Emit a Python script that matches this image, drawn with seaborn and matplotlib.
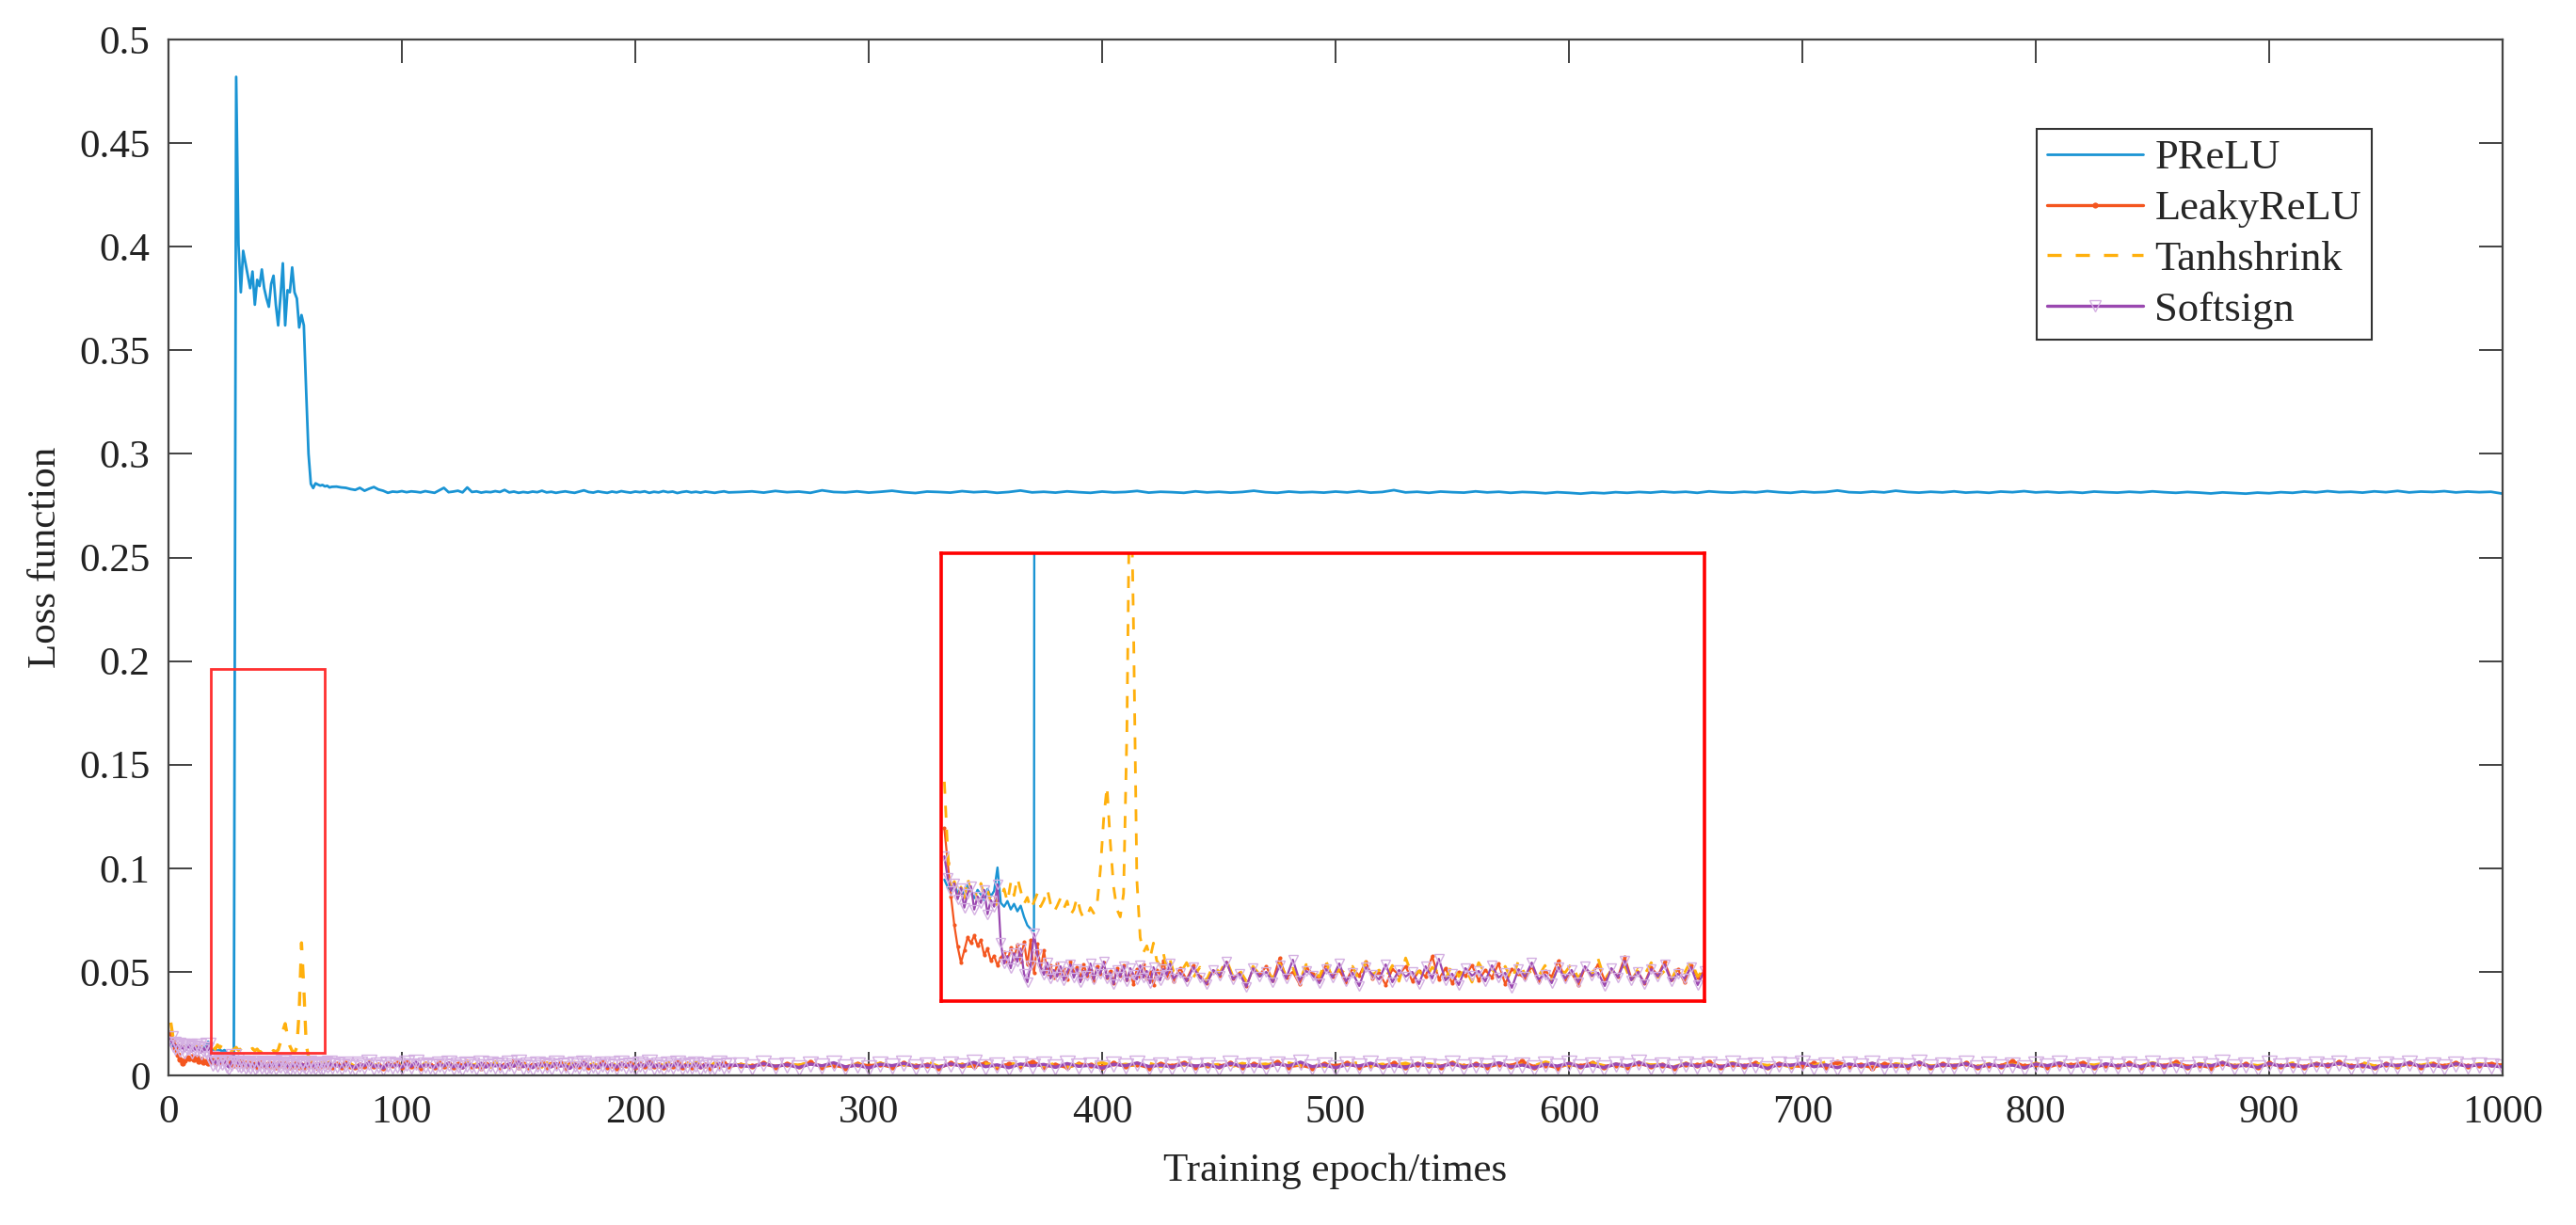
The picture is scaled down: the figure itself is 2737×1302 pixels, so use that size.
import numpy as np
import pandas as pd
import matplotlib
matplotlib.use("Agg")
import matplotlib.pyplot as plt
from matplotlib.patches import Rectangle
import seaborn as sns

# ---------------- data ----------------
series_names = ["PReLU", "LeakyReLU", "Tanhshrink", "Softsign"]
x_ticks = [0, 100, 200, 300, 400, 500, 600, 700, 800, 900, 1000]
y_ticks = [0, 0.05, 0.1, 0.15, 0.2, 0.25, 0.3, 0.35, 0.4, 0.45, 0.5]
x_label = "Training epoch/times"
y_label = "Loss function"

# epochs 1..70 (every epoch), 72..240 (every 2), 245..1000 (every 5)
prelu_seg1 = [0.0150, 0.0142, 0.0138, 0.0146, 0.0135, 0.0141, 0.0133, 0.0144, 0.0137, 0.0130,
              0.0139, 0.0134, 0.0128, 0.0140, 0.0132, 0.0138, 0.0163, 0.0125, 0.0121, 0.0127,
              0.0118, 0.0124, 0.0116, 0.0122, 0.0110, 0.0101, 0.0097, 0.0095, 0.482, 0.401,
              0.378, 0.398, 0.392, 0.386, 0.380, 0.388, 0.372, 0.384, 0.381, 0.389,
              0.380, 0.375, 0.371, 0.382, 0.386, 0.372, 0.362, 0.376, 0.392, 0.362,
              0.379, 0.378, 0.390, 0.378, 0.375, 0.361, 0.367, 0.362, 0.330, 0.300,
              0.2855, 0.2835, 0.2858, 0.2852, 0.2847, 0.2850, 0.2843, 0.2846, 0.2838, 0.2841]
prelu_seg2 = [0.2842, 0.2838, 0.2836, 0.2830, 0.2826, 0.2836, 0.2822, 0.2832, 0.2840, 0.2828,
              0.2822, 0.2812, 0.2818, 0.2816, 0.2820, 0.2815, 0.2819, 0.2817, 0.2814, 0.2820,
              0.2816, 0.2812, 0.2824, 0.2836, 0.2815, 0.2818, 0.2822, 0.2814, 0.2838, 0.2816,
              0.2819, 0.2813, 0.2817, 0.2815, 0.2820, 0.2816, 0.2826, 0.2814, 0.2818, 0.2812,
              0.2816, 0.2813, 0.2818, 0.2815, 0.2822, 0.2814, 0.2817, 0.2812, 0.2816, 0.2819,
              0.2815, 0.2812, 0.2818, 0.2824, 0.2816, 0.2813, 0.2819, 0.2815, 0.2812, 0.2818,
              0.2814, 0.2820, 0.2816, 0.2813, 0.2818, 0.2815, 0.2819, 0.2812, 0.2817, 0.2814,
              0.2820, 0.2815, 0.2818, 0.2811, 0.2816, 0.2819, 0.2814, 0.2817, 0.2813, 0.2818,
              0.2815, 0.2812, 0.2816, 0.2819, 0.2814]
prelu_seg3 = [0.2816, 0.2819, 0.2813, 0.2821, 0.2815, 0.2818, 0.2812, 0.2824, 0.2816, 0.2814,
              0.2819, 0.2813, 0.2817, 0.2822, 0.2815, 0.2811, 0.2818, 0.2816, 0.2813, 0.2820,
              0.2815, 0.2818, 0.2812, 0.2816, 0.2823, 0.2814, 0.2817, 0.2813, 0.2819, 0.2815,
              0.2812, 0.2818, 0.2814, 0.2816, 0.2821, 0.2813, 0.2817, 0.2815, 0.2812, 0.2819,
              0.2814, 0.2817, 0.2813, 0.2816, 0.2822, 0.2815, 0.2812, 0.2818, 0.2814, 0.2816,
              0.2813,
              0.2818, 0.2814, 0.2820, 0.2813, 0.2816, 0.2825, 0.2814, 0.2817, 0.2812, 0.2818,
              0.2815, 0.2813, 0.2819, 0.2814, 0.2817, 0.2812, 0.2816, 0.2814, 0.2810, 0.2815,
              0.2812, 0.2808, 0.2813, 0.2810, 0.2815, 0.2812, 0.2816, 0.2813, 0.2818, 0.2814,
              0.2817, 0.2812, 0.2819, 0.2815, 0.2813, 0.2817, 0.2814, 0.2820, 0.2815, 0.2812,
              0.2818, 0.2814, 0.2816, 0.2823, 0.2815, 0.2813, 0.2818, 0.2814, 0.2822, 0.2816,
              0.2813,
              0.2817, 0.2814, 0.2819, 0.2813, 0.2816, 0.2812, 0.2818, 0.2815, 0.2820, 0.2814,
              0.2817, 0.2813, 0.2816, 0.2812, 0.2818, 0.2815, 0.2813, 0.2817, 0.2814, 0.2819,
              0.2815, 0.2812, 0.2816, 0.2813, 0.2809, 0.2814, 0.2811, 0.2808, 0.2813, 0.2810,
              0.2815, 0.2812, 0.2818, 0.2814, 0.2820, 0.2815, 0.2817, 0.2813, 0.2819, 0.2815,
              0.2821, 0.2814, 0.2818, 0.2816, 0.2820, 0.2814, 0.2818, 0.2815, 0.2817, 0.2808]

leaky_seg1 = [0.0205, 0.0168, 0.0132, 0.0101, 0.0078, 0.0061, 0.0074, 0.0088, 0.0082, 0.0090,
              0.0079, 0.0085, 0.0069, 0.0076, 0.0063, 0.0068, 0.0058, 0.0066, 0.0072, 0.0061,
              0.0077, 0.0065, 0.0080, 0.0062, 0.0083, 0.0059, 0.0085, 0.0050, 0.0081, 0.0054,
              0.0074, 0.0049, 0.0058, 0.0045, 0.0060, 0.0048, 0.0055, 0.0043, 0.0062, 0.0050,
              0.0056, 0.0044, 0.0059, 0.0047, 0.0053, 0.0041, 0.0057, 0.0049, 0.0061, 0.0045,
              0.0052, 0.0039, 0.0055, 0.0047, 0.0058, 0.0043, 0.0050, 0.0038, 0.0054, 0.0046,
              0.0059, 0.0044, 0.0051, 0.0037, 0.0053, 0.0048, 0.0063, 0.0045, 0.0052, 0.0041]
leaky_seg2 = [0.0055, 0.0043, 0.0058, 0.0046, 0.0039, 0.0052, 0.0047, 0.0061, 0.0044, 0.0050,
              0.0036, 0.0054, 0.0048, 0.0057, 0.0042, 0.0066, 0.0045, 0.0051, 0.0038, 0.0056,
              0.0049, 0.0043, 0.0059, 0.0046, 0.0053, 0.0040, 0.0055, 0.0047, 0.0062, 0.0044,
              0.0050, 0.0037, 0.0054, 0.0048, 0.0057, 0.0041, 0.0052, 0.0046, 0.0068, 0.0043,
              0.0055, 0.0039, 0.0051, 0.0047, 0.0058, 0.0042, 0.0053, 0.0045, 0.0060, 0.0038,
              0.0054, 0.0049, 0.0044, 0.0057, 0.0041, 0.0052, 0.0046, 0.0063, 0.0043, 0.0050,
              0.0037, 0.0055, 0.0048, 0.0059, 0.0042, 0.0053, 0.0046, 0.0067, 0.0044, 0.0051,
              0.0039, 0.0056, 0.0047, 0.0062, 0.0043, 0.0054, 0.0040, 0.0058, 0.0045, 0.0052,
              0.0038, 0.0055, 0.0047, 0.0061, 0.0044]
leaky_seg3 = [0.0052, 0.0044, 0.0058, 0.0041, 0.0055, 0.0047, 0.0062, 0.0043, 0.0050, 0.0038,
              0.0056, 0.0046, 0.0053, 0.0040, 0.0059, 0.0045, 0.0051, 0.0037, 0.0057, 0.0048,
              0.0044, 0.0060, 0.0042, 0.0054, 0.0047, 0.0065, 0.0043, 0.0052, 0.0039, 0.0055,
              0.0048, 0.0041, 0.0058, 0.0045, 0.0053, 0.0038, 0.0056, 0.0046, 0.0061, 0.0042,
              0.0051, 0.0044, 0.0057, 0.0040, 0.0054, 0.0047, 0.0063, 0.0043, 0.0050, 0.0037,
              0.0055, 0.0046, 0.0059, 0.0041, 0.0052, 0.0045, 0.0058, 0.0039, 0.0054, 0.0048,
              0.0043, 0.0061, 0.0044, 0.0053, 0.0040, 0.0056, 0.0047, 0.0066, 0.0042, 0.0051,
              0.0038, 0.0055, 0.0046, 0.0060, 0.0043, 0.0052, 0.0041, 0.0057, 0.0045, 0.0050,
              0.0037, 0.0054, 0.0048, 0.0062, 0.0042, 0.0053, 0.0046, 0.0059, 0.0040, 0.0056,
              0.0047, 0.0044, 0.0058, 0.0041, 0.0064, 0.0045, 0.0052, 0.0038, 0.0055, 0.0049,
              0.0043, 0.0060, 0.0042, 0.0054, 0.0047, 0.0057, 0.0040, 0.0051, 0.0046, 0.0068,
              0.0044, 0.0053, 0.0039, 0.0056, 0.0048, 0.0061, 0.0042, 0.0052, 0.0045, 0.0058,
              0.0041, 0.0055, 0.0047, 0.0063, 0.0043, 0.0050, 0.0038, 0.0057, 0.0046, 0.0053,
              0.0040, 0.0059, 0.0045, 0.0052, 0.0042, 0.0056, 0.0048, 0.0062, 0.0044, 0.0051,
              0.0039, 0.0054, 0.0047, 0.0058, 0.0043, 0.0055, 0.0046, 0.0060, 0.0045, 0.0052,
              0.0056, 0.0049]

tanh_seg1 = [0.0255, 0.0180, 0.0135, 0.0148, 0.0130, 0.0142, 0.0128, 0.0152, 0.0136, 0.0141,
             0.0127, 0.0146, 0.0132, 0.0139, 0.0125, 0.0134, 0.0122, 0.0129, 0.0140, 0.0126,
             0.0147, 0.0133, 0.0152, 0.0138, 0.0124, 0.0131, 0.0118, 0.0126, 0.0135, 0.0121,
             0.0128, 0.0140, 0.0124, 0.0115, 0.0122, 0.0130, 0.0119, 0.0127, 0.0112, 0.0118,
             0.0131, 0.0116, 0.0108, 0.0111, 0.0120, 0.0114, 0.0123, 0.0160, 0.0215, 0.0250,
             0.0190, 0.0142, 0.0118, 0.0110, 0.0135, 0.0310, 0.0640, 0.0420, 0.0150, 0.0088,
             0.0072, 0.0079, 0.0066, 0.0082, 0.0063, 0.0058, 0.0071, 0.0055, 0.0064, 0.0052]
tanh_seg2 = [0.0049, 0.0061, 0.0045, 0.0056, 0.0042, 0.0058, 0.0050, 0.0064, 0.0046, 0.0053,
             0.0041, 0.0057, 0.0048, 0.0052, 0.0044, 0.0060, 0.0047, 0.0055, 0.0040, 0.0059,
             0.0051, 0.0046, 0.0063, 0.0043, 0.0054, 0.0049, 0.0057, 0.0042, 0.0062, 0.0048,
             0.0053, 0.0045, 0.0058, 0.0041, 0.0066, 0.0047, 0.0052, 0.0044, 0.0056, 0.0050,
             0.0043, 0.0059, 0.0046, 0.0055, 0.0040, 0.0061, 0.0049, 0.0054, 0.0045, 0.0057,
             0.0042, 0.0063, 0.0048, 0.0052, 0.0046, 0.0058, 0.0041, 0.0055, 0.0050, 0.0060,
             0.0044, 0.0056, 0.0047, 0.0065, 0.0043, 0.0053, 0.0049, 0.0058, 0.0040, 0.0054,
             0.0048, 0.0061, 0.0045, 0.0052, 0.0042, 0.0057, 0.0050, 0.0063, 0.0046, 0.0055,
             0.0043, 0.0059, 0.0048, 0.0054, 0.0045]
tanh_seg3 = [0.0052, 0.0046, 0.0060, 0.0043, 0.0055, 0.0049, 0.0063, 0.0045, 0.0057, 0.0041,
             0.0054, 0.0048, 0.0059, 0.0044, 0.0052, 0.0047, 0.0066, 0.0043, 0.0056, 0.0050,
             0.0045, 0.0058, 0.0042, 0.0061, 0.0048, 0.0053, 0.0046, 0.0057, 0.0040, 0.0055,
             0.0049, 0.0062, 0.0044, 0.0054, 0.0047, 0.0059, 0.0043, 0.0056, 0.0051, 0.0064,
             0.0046, 0.0053, 0.0041, 0.0058, 0.0049, 0.0055, 0.0044, 0.0060, 0.0047, 0.0052,
             0.0043, 0.0057, 0.0050, 0.0063, 0.0045, 0.0054, 0.0048, 0.0059, 0.0042, 0.0056,
             0.0047, 0.0061, 0.0044, 0.0053, 0.0049, 0.0058, 0.0041, 0.0055, 0.0046, 0.0065,
             0.0048, 0.0052, 0.0043, 0.0060, 0.0047, 0.0056, 0.0045, 0.0062, 0.0050, 0.0054,
             0.0042, 0.0058, 0.0046, 0.0053, 0.0049, 0.0061, 0.0044, 0.0057, 0.0048, 0.0055,
             0.0041, 0.0059, 0.0047, 0.0064, 0.0045, 0.0052, 0.0050, 0.0058, 0.0043, 0.0056,
             0.0048, 0.0062, 0.0044, 0.0054, 0.0046, 0.0060, 0.0042, 0.0057, 0.0049, 0.0053,
             0.0045, 0.0058, 0.0047, 0.0063, 0.0043, 0.0055, 0.0050, 0.0059, 0.0044, 0.0052,
             0.0046, 0.0061, 0.0048, 0.0054, 0.0042, 0.0057, 0.0049, 0.0065, 0.0045, 0.0056,
             0.0047, 0.0053, 0.0043, 0.0060, 0.0048, 0.0055, 0.0044, 0.0058, 0.0050, 0.0062,
             0.0046, 0.0054, 0.0041, 0.0057, 0.0049, 0.0059, 0.0045, 0.0053, 0.0048, 0.0056,
             0.0044, 0.0051]

soft_seg1 = [0.0175, 0.0152, 0.0138, 0.0146, 0.0129, 0.0141, 0.0120, 0.0135, 0.0143, 0.0118,
             0.0132, 0.0125, 0.0139, 0.0113, 0.0128, 0.0121, 0.0145, 0.0082, 0.0060, 0.0068,
             0.0055, 0.0071, 0.0062, 0.0076, 0.0049, 0.0040, 0.0058, 0.0092, 0.0070, 0.0056,
             0.0048, 0.0061, 0.0044, 0.0053, 0.0046, 0.0057, 0.0042, 0.0051, 0.0059, 0.0045,
             0.0054, 0.0040, 0.0052, 0.0047, 0.0060, 0.0043, 0.0055, 0.0049, 0.0062, 0.0044,
             0.0050, 0.0038, 0.0053, 0.0046, 0.0057, 0.0041, 0.0055, 0.0048, 0.0043, 0.0058,
             0.0045, 0.0052, 0.0039, 0.0056, 0.0047, 0.0042, 0.0054, 0.0048, 0.0060, 0.0044]
soft_seg2 = [0.0050, 0.0041, 0.0056, 0.0045, 0.0038, 0.0053, 0.0047, 0.0062, 0.0043, 0.0049,
             0.0035, 0.0055, 0.0046, 0.0051, 0.0040, 0.0058, 0.0044, 0.0064, 0.0042, 0.0052,
             0.0047, 0.0039, 0.0054, 0.0045, 0.0060, 0.0041, 0.0050, 0.0036, 0.0056, 0.0048,
             0.0043, 0.0059, 0.0040, 0.0053, 0.0046, 0.0051, 0.0038, 0.0057, 0.0044, 0.0065,
             0.0042, 0.0049, 0.0037, 0.0055, 0.0047, 0.0052, 0.0041, 0.0058, 0.0045, 0.0050,
             0.0034, 0.0054, 0.0046, 0.0061, 0.0043, 0.0048, 0.0039, 0.0056, 0.0044, 0.0053,
             0.0040, 0.0057, 0.0047, 0.0050, 0.0036, 0.0055, 0.0045, 0.0063, 0.0042, 0.0051,
             0.0038, 0.0054, 0.0046, 0.0059, 0.0041, 0.0049, 0.0044, 0.0056, 0.0037, 0.0052,
             0.0047, 0.0043, 0.0058, 0.0045, 0.0050]
soft_seg3 = [0.0048, 0.0042, 0.0057, 0.0044, 0.0052, 0.0038, 0.0055, 0.0046, 0.0061, 0.0041,
             0.0050, 0.0036, 0.0054, 0.0047, 0.0058, 0.0043, 0.0049, 0.0040, 0.0056, 0.0045,
             0.0063, 0.0042, 0.0051, 0.0037, 0.0055, 0.0046, 0.0053, 0.0039, 0.0057, 0.0044,
             0.0049, 0.0035, 0.0054, 0.0047, 0.0060, 0.0043, 0.0050, 0.0041, 0.0056, 0.0045,
             0.0052, 0.0038, 0.0058, 0.0044, 0.0049, 0.0040, 0.0055, 0.0046, 0.0064, 0.0042,
             0.0051, 0.0037, 0.0053, 0.0045, 0.0059, 0.0041, 0.0048, 0.0039, 0.0056, 0.0047,
             0.0043, 0.0057, 0.0040, 0.0052, 0.0046, 0.0061, 0.0042, 0.0050, 0.0036, 0.0054,
             0.0045, 0.0058, 0.0041, 0.0049, 0.0038, 0.0055, 0.0047, 0.0062, 0.0043, 0.0051,
             0.0039, 0.0056, 0.0044, 0.0053, 0.0040, 0.0057, 0.0046, 0.0050, 0.0034, 0.0054,
             0.0048, 0.0060, 0.0042, 0.0051, 0.0037, 0.0055, 0.0045, 0.0059, 0.0041, 0.0049,
             0.0044, 0.0063, 0.0040, 0.0052, 0.0046, 0.0057, 0.0038, 0.0054, 0.0043, 0.0050,
             0.0036, 0.0055, 0.0047, 0.0060, 0.0042, 0.0049, 0.0039, 0.0056, 0.0045, 0.0053,
             0.0041, 0.0058, 0.0044, 0.0051, 0.0037, 0.0054, 0.0046, 0.0062, 0.0043, 0.0050,
             0.0038, 0.0057, 0.0045, 0.0052, 0.0040, 0.0055, 0.0047, 0.0059, 0.0042, 0.0048,
             0.0035, 0.0054, 0.0046, 0.0061, 0.0043, 0.0050, 0.0039, 0.0056, 0.0044, 0.0052,
             0.0047, 0.0041]

# zoom window shown in the inset, and the small highlight box on the main axes
inset_xlim = (0, 230)
inset_ylim = (0.002, 0.05)
highlight_box = (18, 0.011, 49, 0.185)     # x, y, width, height in data units
inset_box = (331, 0.036, 327, 0.216)       # where the inset sits, data units


def epoch_axis(n1, n2, n3):
    return np.concatenate([np.arange(1, 1 + n1), 72 + 2 * np.arange(n2), 245 + 5 * np.arange(n3)])


segments = {
    "PReLU": (prelu_seg1, prelu_seg2, prelu_seg3),
    "LeakyReLU": (leaky_seg1, leaky_seg2, leaky_seg3),
    "Tanhshrink": (tanh_seg1, tanh_seg2, tanh_seg3),
    "Softsign": (soft_seg1, soft_seg2, soft_seg3),
}
frames = []
for name, (s1, s2, s3) in segments.items():
    frames.append(pd.DataFrame({
        "epoch": epoch_axis(len(s1), len(s2), len(s3)),
        "loss": np.concatenate([s1, s2, s3]),
        "model": name,
    }))
df = pd.concat(frames, ignore_index=True)

# ---------------- styling ----------------
sns.set_style("ticks")
plt.rcParams["font.family"] = ["Liberation Serif", "DejaVu Serif"]

colors = {"PReLU": "#1A94D4", "LeakyReLU": "#F4561F",
          "Tanhshrink": "#FFB00D", "Softsign": "#9A48B0"}


def style_for(name, scale, band):
    if name == "PReLU":
        return dict(color=colors[name], linewidth=2.0 * scale)
    if name == "LeakyReLU":
        return dict(color=colors[name], linewidth=1.9 * scale * band, marker=".",
                    markersize=7 * scale * band, markeredgewidth=0)
    if name == "Tanhshrink":
        return dict(color=colors[name], linewidth=2.4 * scale, linestyle="--")
    return dict(color=colors[name], linewidth=1.9 * scale * band, marker="v",
                markersize=9 * scale * band, markerfacecolor="none",
                markeredgecolor="#D4B0E2", markeredgewidth=1.0)


dash_pattern = (4.5, 4.5)

W, H = 2737, 1302
fig = plt.figure(figsize=(W / 100, H / 100), dpi=100)
ax = fig.add_axes([179 / W, 1 - 1143 / H, 2480 / W, 1101 / H])


def draw(axis, with_labels, scale, band):
    for name in series_names:
        sub = df[df["model"] == name]
        sns.lineplot(data=sub, x="epoch", y="loss", ax=axis, estimator=None,
                     label=name if with_labels else None, legend=False,
                     **style_for(name, scale, band))
        if name == "Tanhshrink":
            axis.lines[-1].set_dashes(dash_pattern)


draw(ax, True, 1.0, 1.3)

ax.set_xlim(0, 1000)
ax.set_ylim(0, 0.5)
ax.set_xticks(x_ticks, [f"{v:g}" for v in x_ticks])
ax.set_yticks(y_ticks, [f"{v:g}" for v in y_ticks])
ax.tick_params(direction="in", top=True, right=True, length=18, width=1.3,
               colors="#333333", labelcolor="#222222", labelsize=31)
ax.tick_params(axis="x", pad=15)
ax.tick_params(axis="y", pad=14)
for sp in ax.spines.values():
    sp.set_color("#444444")
    sp.set_linewidth(1.6)
ax.set_xlabel(x_label, fontsize=31, color="#222222", labelpad=17)
ax.set_ylabel(y_label, fontsize=31, color="#222222", labelpad=12)

# small highlighted region
bx, by, bw, bh = highlight_box
ax.add_patch(Rectangle((bx, by), bw, bh, fill=False, edgecolor="#FF3030",
                       linewidth=2.0, zorder=5))

# inset zoom
axin = ax.inset_axes(list(inset_box), transform=ax.transData)
draw(axin, False, 0.85, 1.0)
axin.set_xlim(*inset_xlim)
axin.set_ylim(*inset_ylim)
axin.set_xticks([])
axin.set_yticks([])
axin.set_xlabel("")
axin.set_ylabel("")
axin.set_facecolor("white")
for sp in axin.spines.values():
    sp.set_color("#FF0000")
    sp.set_linewidth(2.6)

handles, labels = ax.get_legend_handles_labels()
leg = ax.legend(handles, labels, loc="upper right", bbox_to_anchor=(0.9440, 0.9137),
                fontsize=32, frameon=True, fancybox=False, edgecolor="#333333",
                framealpha=1, handlelength=2.3, handletextpad=0.27, labelspacing=0.31,
                borderpad=0.25, borderaxespad=0)
leg.get_frame().set_linewidth(1.5)
for lh in leg.get_lines():
    lh.set_linewidth(min(lh.get_linewidth(), 2.4))
    lh.set_markersize(min(lh.get_markersize(), 9))

fig.savefig("out.png", dpi=100, facecolor="white")
